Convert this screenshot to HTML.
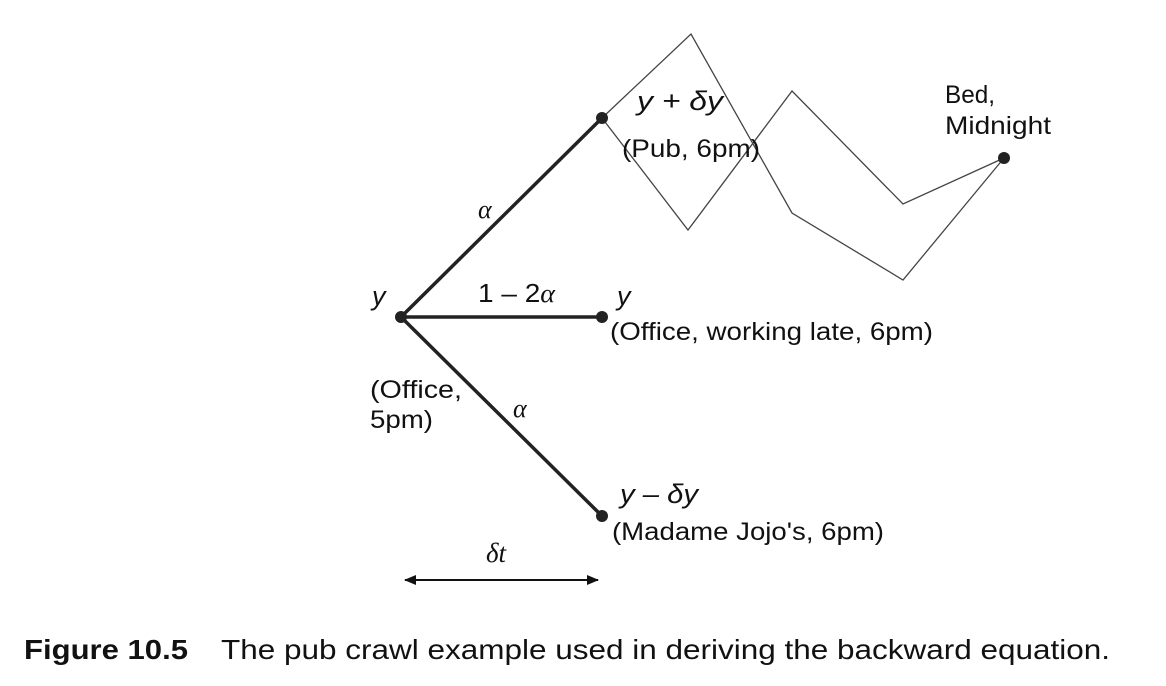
<!DOCTYPE html>
<html><head><meta charset="utf-8"><style>
html,body{margin:0;padding:0;background:#fff;}
svg{display:block;}
text{font-family:"Liberation Sans",sans-serif;fill:#111;}
.i{font-family:"Liberation Serif",serif;font-style:italic;}
</style></head><body>
<svg width="1166" height="686" viewBox="0 0 1166 686" xmlns="http://www.w3.org/2000/svg">
<defs>
<marker id="ah" markerWidth="12" markerHeight="10" refX="11" refY="5" orient="auto-start-reverse" markerUnits="userSpaceOnUse">
<path d="M0,0 L12,5 L0,10 Z" fill="#111"/></marker>
</defs>
<g fill="none" stroke="#444" stroke-width="1.3">
<polyline points="602,118 691,34 792,213 903,280 1004,158"/>
<polyline points="602,118 688,230 792,91 903,204 1004,158"/>
</g>
<g stroke="#222" stroke-width="3.5">
<line x1="401" y1="317" x2="602" y2="118"/>
<line x1="401" y1="317" x2="602" y2="317"/>
<line x1="401" y1="317" x2="602" y2="516"/>
</g>
<g fill="#222">
<circle cx="401" cy="317" r="6"/><circle cx="602" cy="118" r="6"/>
<circle cx="602" cy="317" r="6"/><circle cx="602" cy="516" r="6"/>
<circle cx="1004" cy="158" r="6"/>
</g>
<line x1="405" y1="580" x2="598" y2="580" stroke="#111" stroke-width="2" marker-start="url(#ah)" marker-end="url(#ah)"/>
<text x="637" y="110" font-size="27" font-style="italic" textLength="86" lengthAdjust="spacingAndGlyphs">y + δy</text>
<text x="622" y="157" font-size="25" textLength="138" lengthAdjust="spacingAndGlyphs">(Pub, 6pm)</text>
<text x="945" y="103" font-size="25" textLength="50" lengthAdjust="spacingAndGlyphs">Bed,</text>
<text x="945" y="134" font-size="25" textLength="106" lengthAdjust="spacingAndGlyphs">Midnight</text>
<text x="478" y="218" font-size="26" class="i">α</text>
<text x="372" y="305" font-size="27" font-style="italic">y</text>
<text x="478" y="302" font-size="26" textLength="77" lengthAdjust="spacingAndGlyphs">1 – 2<tspan class="i">α</tspan></text>
<text x="617" y="305" font-size="27" font-style="italic">y</text>
<text x="610" y="340" font-size="25" textLength="323" lengthAdjust="spacingAndGlyphs">(Office, working late, 6pm)</text>
<text x="370" y="398" font-size="25" textLength="92" lengthAdjust="spacingAndGlyphs">(Office,</text>
<text x="370" y="428" font-size="25" textLength="63" lengthAdjust="spacingAndGlyphs">5pm)</text>
<text x="513" y="417" font-size="26" class="i">α</text>
<text x="620" y="503" font-size="27" font-style="italic" textLength="78" lengthAdjust="spacingAndGlyphs">y – δy</text>
<text x="612" y="540" font-size="25" textLength="272" lengthAdjust="spacingAndGlyphs">(Madame Jojo's, 6pm)</text>
<text x="486" y="562" font-size="27" class="i">δt</text>
<text x="24" y="659" font-size="28" font-weight="bold" textLength="164" lengthAdjust="spacingAndGlyphs">Figure 10.5</text>
<text x="221" y="659" font-size="28" textLength="889" lengthAdjust="spacingAndGlyphs">The pub crawl example used in deriving the backward equation.</text>
</svg>
</body></html>
